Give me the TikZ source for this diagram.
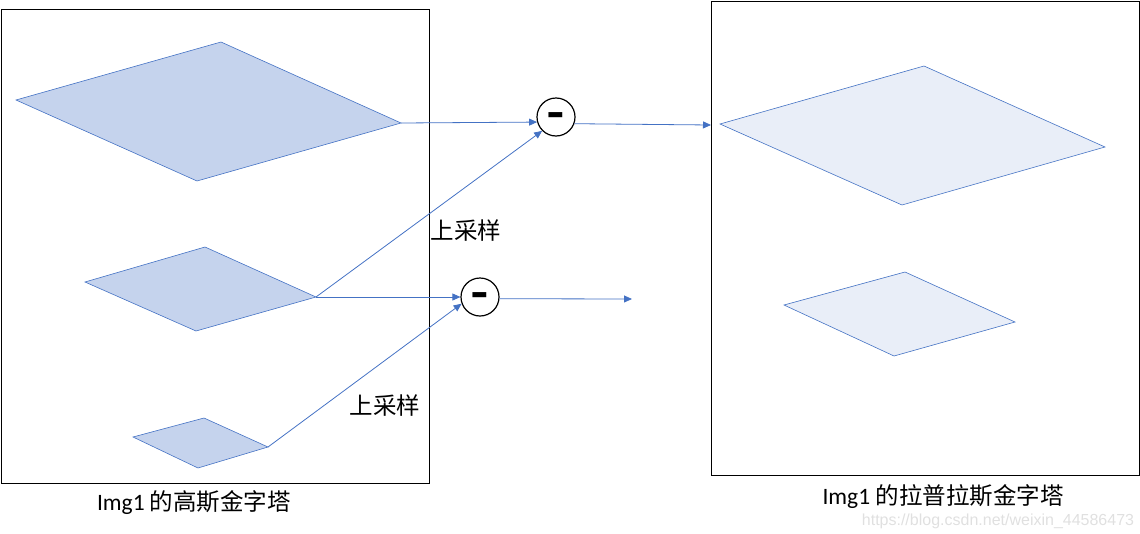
\documentclass[tikz,border=0pt]{standalone}
\usepackage{fontspec}
\setmainfont{Carlito}
\newfontfamily\cjk{Noto Sans CJK SC}
\newfontfamily\wmfont{Liberation Sans}
\newfontfamily\minusfont{DejaVu Sans}
\usetikzlibrary{arrows.meta}
\definecolor{lineblue}{HTML}{4472C4}
\definecolor{fillA}{HTML}{C5D3ED}
\definecolor{fillB}{HTML}{E9EEF8}
\tikzset{
  frame/.style={draw=black, line width=1pt},
  dia/.style={draw=lineblue, line width=0.6pt},
  conn/.style={draw=lineblue, line width=0.8pt, -{Triangle[length=8pt,width=7pt]}},
  minus/.style={circle, draw=black, line width=1.2pt, minimum size=38pt, inner sep=0pt, font=\fontsize{30}{30}\minusfont\bfseries},
  lbl/.style={font=\fontsize{23.5}{28}\selectfont, inner sep=0pt},
}
\newcommand{\minusbar}{\raisebox{-8pt}[0pt][0pt]{\scalebox{1.5}[1.2]{-}}}
\begin{document}
\begin{tikzpicture}[x=1pt,y=-1pt]
\useasboundingbox (0,0) rectangle (1140,533);
% frames
\node[frame, minimum width=428pt, minimum height=474pt, anchor=north west, inner sep=0pt] (leftframe) at (1,9) {};
\node[frame, minimum width=428pt, minimum height=474pt, anchor=north west, inner sep=0pt] (rightframe) at (711,1) {};
% left diamonds
\coordinate (g1l) at (16,100); \coordinate (g1t) at (221,42); \coordinate (g1r) at (401,123); \coordinate (g1b) at (197,181);
\coordinate (g2l) at (85,282); \coordinate (g2t) at (205,247); \coordinate (g2r) at (316,297); \coordinate (g2b) at (196,331);
\coordinate (g3l) at (133,437); \coordinate (g3t) at (204,418); \coordinate (g3r) at (268,447); \coordinate (g3b) at (198,468);
\path[dia, fill=fillA] (g1l) -- (g1t) -- (g1r) -- (g1b) -- cycle;
\path[dia, fill=fillA] (g2l) -- (g2t) -- (g2r) -- (g2b) -- cycle;
\path[dia, fill=fillA] (g3l) -- (g3t) -- (g3r) -- (g3b) -- cycle;
% right diamonds
\coordinate (l1l) at (720,124); \coordinate (l1t) at (924,66); \coordinate (l1r) at (1105,147); \coordinate (l1b) at (902,205);
\coordinate (l2l) at (784,305); \coordinate (l2t) at (905,272); \coordinate (l2r) at (1015,322); \coordinate (l2b) at (894,356);
\path[dia, fill=fillB] (l1l) -- (l1t) -- (l1r) -- (l1b) -- cycle;
\path[dia, fill=fillB] (l2l) -- (l2t) -- (l2r) -- (l2b) -- cycle;
% minus circles
\node[minus] (m1) at (556,117) {\minusbar};
\node[minus] (m2) at (480,297) {\minusbar};
% free ends
\coordinate (out1) at (711,125);
\coordinate (out2) at (632,299);
% connectors
\draw[conn] (g1r) -- (m1.195);
\draw[conn] (g2r) -- (m1.225);
\draw[conn] (m1.340) -- (out1);
\draw[conn] (g2r) -- (m2.west);
\draw[conn] (g3r) -- (m2.200);
\draw[conn] (m2.355) -- (out2);
% labels
\node[lbl] (up1) at (466,231) {\cjk 上采样};
\node[lbl] (up2) at (385,406) {\cjk 上采样};
\node[lbl] (cap1) at (194,503) {Img1 {\cjk 的高斯金字塔}};
\node[lbl] (cap2) at (943,497) {Img1 {\cjk 的拉普拉斯金字塔}};
\node[font=\fontsize{16}{18}\wmfont, text=black!12, inner sep=0pt] (wm) at (998,521) {https://blog.csdn.net/weixin\_44586473};
\end{tikzpicture}
\end{document}
